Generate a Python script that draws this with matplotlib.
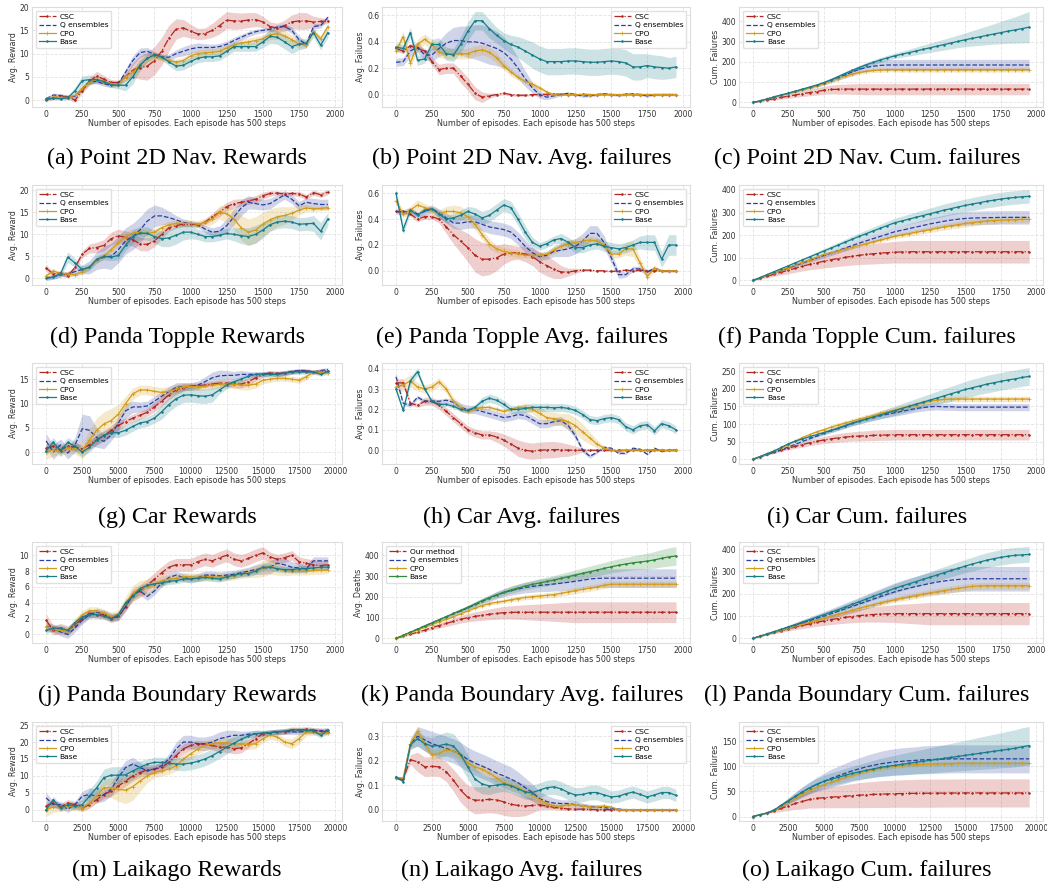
import numpy as np
import matplotlib
matplotlib.use('Agg')
import matplotlib.pyplot as plt

# episode axes
x_short = np.arange(0, 2000, 50)
x_long = np.arange(0, 20000, 500)

# ---------------- (a) Point 2D Nav. Rewards ----------------
a_csc = [0, 0.5, 0.8, 0.7, 0, 2, 4, 5.2, 4.5, 3.8,
         3.8, 5, 6.5, 7, 7.3, 8.5, 10.5, 13.3, 15.3, 15.5,
         14.8, 14.2, 14.3, 15, 16, 17.2, 17, 17, 17.2, 17.3,
         16.8, 15.8, 15.5, 16, 16.8, 17, 17, 16.8, 16.9, 17]
a_q = [0.3, 1.1, 1, 0.7, 0.8, 2.5, 4, 4, 3.5, 3.2,
       3.5, 6, 8.5, 10.2, 10.5, 9.8, 9.3, 9.2, 10, 10.5,
       11, 11.3, 11.3, 11.3, 11.5, 12, 12.8, 13.5, 14.2, 14.7,
       15, 15.2, 15.7, 15.8, 15, 13, 12, 15.8, 16, 17.8]
a_cpo = [0.3, 0.7, 0.6, 0.6, 1, 2.5, 3.8, 4.5, 4, 3.5,
         3.3, 5, 6, 7.5, 9, 9.5, 9, 8.5, 8.2, 8.5,
         9.5, 10, 10.2, 10.3, 10.5, 11.2, 11.8, 12.3, 12.5, 12.8,
         13.2, 14, 14.3, 13.8, 13, 12, 11.8, 14.8, 13.2, 15.8]
a_base = [0.3, 0.4, 0.3, 0.5, 2, 4.2, 4.4, 4.4, 4, 3.3,
          3.2, 3.2, 5, 7.5, 9, 9.7, 9.3, 8.2, 7.3, 7.5,
          8.3, 9, 9.3, 9.3, 9.5, 10.5, 11.5, 11.5, 11.5, 11.5,
          12.5, 13.7, 13.5, 12.5, 11.5, 12, 12.2, 14.5, 11.8, 14.5]
a_csc_b = [0.3, 0.4, 0.5, 0.5, 0.5, 0.6, 0.8, 1.0, 0.8, 0.6,
           0.5, 0.8, 1.5, 2.5, 3.0, 3.0, 3.0, 2.8, 2.2, 1.8,
           1.5, 1.2, 1.2, 1.5, 1.8, 1.8, 1.8, 1.7, 1.6, 1.5,
           1.2, 1.0, 1.0, 1.2, 1.5, 1.8, 1.8, 1.2, 0.8, 0.5]
a_q_b = [0.3, 0.4, 0.4, 0.3, 0.4, 0.5, 0.5, 0.5, 0.5, 0.5,
         0.5, 0.8, 1.0, 1.0, 0.8, 0.6, 0.5, 0.6, 0.8, 1.0,
         1.0, 1.0, 0.8, 0.7, 0.7, 0.7, 0.7, 0.6, 0.6, 0.5,
         0.5, 0.5, 0.5, 0.6, 0.7, 0.8, 0.6, 0.6, 0.5, 0.4]
a_cpo_b = [0.3, 0.3, 0.3, 0.3, 0.4, 0.5, 0.6, 0.6, 0.5, 0.5,
           0.5, 0.8, 1.0, 1.0, 1.0, 0.8, 0.6, 0.6, 0.6, 0.7,
           0.8, 0.8, 0.8, 0.8, 0.8, 0.8, 0.8, 0.8, 0.8, 0.8,
           0.8, 1.0, 1.2, 1.2, 1.0, 0.8, 0.6, 0.6, 0.6, 0.5]
a_base_b = [0.3, 0.3, 0.3, 0.4, 0.8, 1.0, 1.0, 0.8, 0.6, 0.6,
            0.8, 1.2, 1.5, 1.2, 0.8, 0.6, 0.6, 0.8, 1.0, 1.0,
            1.0, 1.0, 1.0, 1.0, 1.0, 1.0, 1.0, 1.0, 1.0, 1.0,
            1.2, 1.5, 1.5, 1.5, 1.5, 1.2, 1.0, 1.0, 1.0, 1.0]

# ---------------- (b) Point 2D Nav. Avg. failures ----------------
b_csc = [0.35, 0.33, 0.37, 0.35, 0.33, 0.25, 0.19, 0.2, 0.2, 0.14,
         0.08, 0.01, -0.02, -0.01, 0, 0.01, 0, -0.005, -0.005, 0,
         0, 0.002, 0.005, 0.002, 0, 0, 0.002, 0, 0, 0.002,
         0, 0, 0.002, 0, 0, 0, 0, 0, 0, 0]
b_q = [0.245, 0.25, 0.33, 0.36, 0.3, 0.3, 0.35, 0.39, 0.41, 0.41,
       0.4, 0.4, 0.39, 0.37, 0.35, 0.32, 0.27, 0.2, 0.12, 0.05,
       0, -0.02, -0.01, 0, 0.01, 0, -0.01, -0.01, 0, 0.005,
       0, -0.005, 0, 0.005, 0, -0.01, 0, 0, 0, 0]
b_cpo = [0.33, 0.44, 0.24, 0.38, 0.42, 0.38, 0.32, 0.31, 0.31, 0.31,
         0.31, 0.33, 0.34, 0.32, 0.28, 0.22, 0.17, 0.13, 0.1, 0.08,
         0.05, 0.02, 0, -0.005, 0, 0, 0, 0, 0, 0,
         0, 0, 0, 0, 0, 0, 0, 0, 0, 0]
b_base = [0.36, 0.35, 0.47, 0.26, 0.27, 0.38, 0.38, 0.31, 0.3, 0.38,
          0.48, 0.56, 0.56, 0.5, 0.45, 0.41, 0.38, 0.36, 0.33, 0.3,
          0.27, 0.25, 0.25, 0.25, 0.255, 0.255, 0.25, 0.245, 0.245, 0.25,
          0.255, 0.25, 0.24, 0.21, 0.21, 0.22, 0.21, 0.205, 0.2, 0.21]
b_csc_b = [0.02, 0.02, 0.02, 0.02, 0.02, 0.03, 0.04, 0.04, 0.04, 0.05,
           0.05, 0.05, 0.04, 0.02, 0.01, 0.01, 0.01, 0.01, 0.01, 0.005,
           0.005, 0.005, 0.005, 0.005, 0.005, 0.005, 0.005, 0.005, 0.005, 0.005,
           0.005, 0.005, 0.005, 0.005, 0.005, 0.005, 0.005, 0.005, 0.005, 0.005]
b_q_b = [0.03, 0.03, 0.04, 0.04, 0.04, 0.05, 0.06, 0.08, 0.1, 0.11,
         0.12, 0.13, 0.14, 0.14, 0.13, 0.12, 0.1, 0.08, 0.06, 0.04,
         0.03, 0.02, 0.015, 0.01, 0.01, 0.01, 0.01, 0.01, 0.01, 0.01,
         0.01, 0.01, 0.01, 0.01, 0.01, 0.01, 0.01, 0.01, 0.01, 0.01]
b_cpo_b = [0.03, 0.04, 0.04, 0.04, 0.04, 0.04, 0.04, 0.04, 0.04, 0.04,
           0.04, 0.04, 0.04, 0.04, 0.04, 0.03, 0.03, 0.02, 0.02, 0.02,
           0.02, 0.01, 0.005, 0.005, 0.005, 0.005, 0.005, 0.005, 0.005, 0.005,
           0.005, 0.005, 0.005, 0.005, 0.005, 0.005, 0.005, 0.005, 0.005, 0.005]
b_base_b = [0.03, 0.03, 0.04, 0.04, 0.03, 0.04, 0.05, 0.05, 0.05, 0.06,
            0.07, 0.07, 0.07, 0.07, 0.06, 0.06, 0.07, 0.08, 0.09, 0.1,
            0.1, 0.1, 0.1, 0.1, 0.1, 0.1, 0.1, 0.1, 0.1, 0.1,
            0.1, 0.1, 0.1, 0.1, 0.1, 0.09, 0.09, 0.09, 0.08, 0.08]

# ---------------- (c) Point 2D Nav. Cum. failures ----------------
c_csc = [0, 6, 12, 18, 25, 31, 37, 43, 49, 54,
         60, 64, 65, 66, 66, 66, 66, 66, 66, 66,
         66, 66, 66, 66, 66, 66, 66, 66, 66, 66,
         66, 66, 66, 66, 66, 66, 66, 66, 66, 66]
c_q = [0, 8, 17, 27, 36, 45, 54, 63, 73, 83,
       95, 108, 122, 136, 150, 163, 173, 179, 183, 185,
       185, 185, 185, 185, 185, 185, 185, 185, 185, 185,
       185, 185, 185, 185, 185, 185, 185, 185, 185, 185]
c_cpo = [0, 8, 17, 27, 36, 45, 54, 63, 73, 83,
         93, 105, 118, 130, 140, 148, 154, 158, 160, 162,
         162, 162, 162, 162, 162, 162, 162, 162, 162, 162,
         162, 162, 162, 162, 162, 162, 162, 162, 162, 162]
c_base = [0, 8, 17, 28, 37, 46, 56, 66, 76, 86,
          98, 112, 127, 143, 158, 172, 186, 198, 210, 220,
          230, 238, 246, 254, 262, 270, 278, 286, 294, 302,
          310, 317, 324, 331, 338, 345, 352, 358, 365, 372]
c_csc_b = [0, 2, 4, 6, 8, 10, 12, 14, 16, 18,
           20, 22, 24, 25, 26, 27, 28, 28, 28, 28,
           28, 28, 28, 28, 28, 28, 28, 28, 28, 28,
           28, 28, 28, 28, 28, 28, 28, 28, 28, 28]
c_q_b = [0, 1, 2, 3, 4, 5, 6, 7, 8, 9,
         10, 11, 13, 15, 17, 19, 21, 23, 25, 26,
         27, 28, 28, 28, 28, 28, 28, 28, 28, 28,
         28, 28, 28, 28, 28, 28, 28, 28, 28, 28]
c_cpo_b = [0, 1, 1, 2, 2, 3, 3, 4, 4, 5,
           5, 6, 7, 8, 9, 10, 10, 10, 11, 11,
           11, 12, 12, 12, 12, 12, 12, 12, 12, 12,
           12, 12, 12, 12, 12, 12, 12, 12, 12, 12]
c_base_b = [0, 1, 1, 2, 2, 3, 3, 4, 4, 5,
            5, 6, 7, 8, 9, 10, 11, 12, 12, 13,
            13, 15, 17, 19, 21, 23, 25, 27, 29, 31,
            34, 38, 42, 46, 50, 55, 60, 65, 71, 77]

# ---------------- (d) Panda Topple Rewards ----------------
d_csc = [2.3, 1, 1.2, 0.5, 2.5, 5.5, 6.8, 7, 7.5, 9,
         9.7, 9.3, 8.8, 7.8, 7.7, 8.5, 10, 11.5, 12, 12.3,
         12.3, 12.2, 12.8, 14, 15, 16.3, 17, 17.3, 17.6, 18,
         18.8, 19.3, 19.4, 19.2, 19.3, 19.2, 18.5, 19.5, 19, 19.6]
d_q = [0, 0.3, 0.8, 1, 1.5, 2, 2.5, 4, 4.8, 5,
       6.5, 8.5, 9.5, 11, 13, 14.2, 14.2, 13.8, 13.3, 12.7,
       12.5, 12.2, 11.2, 10.5, 10.7, 12, 14, 16, 17.3, 17,
       16.7, 17, 18, 19, 18, 16.5, 17.3, 17, 16.8, 16.8]
d_cpo = [0.5, 1.7, 1, 1, 0.8, 1.5, 2.5, 4, 5, 6.5,
         8, 9.5, 10.3, 10.5, 10.2, 10.5, 11.5, 12.2, 12.5, 12.5,
         12.5, 12.3, 12.7, 13.5, 15, 14.7, 13.5, 11.5, 10.5, 11,
         12.3, 13.3, 14, 14.3, 14.8, 15.5, 16, 15.8, 15.9, 16.1]
d_base = [0, 0.3, 1, 4.8, 3.5, 2, 2.5, 4.3, 5, 4.8,
          5.2, 7.5, 9.5, 10.3, 10.2, 9.5, 9, 9.2, 9.8, 10.5,
          10.5, 10, 9.5, 9.5, 9.8, 10.2, 10, 9.7, 9.5, 10,
          11, 12.2, 12.8, 13, 12.8, 12.3, 12.4, 12.5, 10.7, 13.5]
d_csc_b = [0.8, 0.5, 0.5, 0.5, 0.5, 0.8, 1.0, 1.2, 1.3, 1.5,
           1.5, 1.5, 1.5, 1.5, 1.5, 1.3, 1.0, 0.8, 0.6, 0.5,
           0.5, 0.5, 0.6, 0.8, 1.0, 1.0, 1.0, 0.8, 0.8, 0.8,
           0.8, 0.6, 0.5, 0.5, 0.5, 0.6, 0.6, 0.6, 0.6, 0.6]
d_q_b = [0.5, 0.5, 0.5, 0.6, 0.8, 1.0, 1.5, 2.0, 2.5, 3.0,
         3.0, 3.0, 3.0, 3.0, 2.8, 2.5, 2.0, 1.5, 1.0, 0.8,
         0.6, 0.6, 0.8, 1.0, 1.2, 1.5, 1.8, 1.8, 1.5, 1.3,
         1.2, 1.2, 1.0, 1.0, 1.0, 1.0, 1.0, 1.2, 1.2, 1.2]
d_cpo_b = [0.5, 0.5, 0.5, 0.5, 0.5, 0.5, 0.5, 0.6, 0.6, 0.8,
           1.0, 1.0, 1.0, 0.8, 0.8, 0.8, 0.8, 0.8, 0.8, 0.8,
           0.8, 0.8, 1.0, 1.2, 1.5, 2.0, 2.5, 2.8, 3.0, 3.0,
           2.8, 2.5, 2.2, 2.0, 1.5, 1.2, 0.8, 0.6, 0.5, 0.5]
d_base_b = [0.5, 0.5, 0.8, 1.2, 1.0, 0.8, 0.8, 0.8, 0.8, 0.8,
            1.0, 1.2, 1.5, 1.5, 1.5, 1.5, 1.8, 2.0, 2.0, 1.8,
            1.5, 1.2, 1.2, 1.2, 1.2, 1.2, 1.5, 1.8, 2.0, 2.0,
            1.8, 1.5, 1.5, 1.5, 1.5, 1.5, 1.5, 1.8, 2.0, 1.5]

# ---------------- (e) Panda Topple Avg. failures ----------------
e_csc = [0.46, 0.46, 0.44, 0.4, 0.42, 0.42, 0.4, 0.34, 0.28, 0.23,
         0.18, 0.12, 0.09, 0.09, 0.1, 0.13, 0.14, 0.14, 0.13, 0.11,
         0.07, 0.04, 0.01, -0.01, -0.01, 0, 0.005, 0.005, 0, 0,
         -0.005, 0, 0.005, 0, 0.005, 0, 0, 0, 0, 0]
e_q = [0.46, 0.45, 0.47, 0.44, 0.46, 0.48, 0.45, 0.41, 0.37, 0.37,
       0.38, 0.38, 0.36, 0.34, 0.33, 0.32, 0.3, 0.25, 0.19, 0.14,
       0.11, 0.12, 0.15, 0.16, 0.17, 0.19, 0.23, 0.29, 0.29, 0.22,
       0.1, -0.03, -0.03, 0.015, 0.015, -0.01, 0.02, 0, 0, 0]
e_cpo = [0.54, 0.44, 0.47, 0.51, 0.49, 0.47, 0.44, 0.46, 0.46, 0.45,
         0.42, 0.36, 0.28, 0.21, 0.17, 0.15, 0.14, 0.13, 0.12, 0.12,
         0.12, 0.13, 0.16, 0.19, 0.21, 0.22, 0.23, 0.24, 0.23, 0.2,
         0.13, 0.13, 0.17, 0.17, 0.06, -0.045, 0.02, 0, 0, 0]
e_base = [0.6, 0.32, 0.47, 0.43, 0.47, 0.48, 0.44, 0.4, 0.41, 0.43,
          0.46, 0.44, 0.41, 0.43, 0.47, 0.51, 0.49, 0.4, 0.3, 0.22,
          0.19, 0.21, 0.24, 0.25, 0.22, 0.18, 0.18, 0.2, 0.21, 0.19,
          0.18, 0.17, 0.18, 0.2, 0.22, 0.22, 0.22, 0.09, 0.2, 0.2]
e_csc_b = [0.01, 0.01, 0.02, 0.02, 0.02, 0.02, 0.03, 0.05, 0.07, 0.09,
           0.11, 0.13, 0.13, 0.12, 0.1, 0.08, 0.06, 0.05, 0.06, 0.07,
           0.08, 0.08, 0.07, 0.05, 0.03, 0.02, 0.01, 0.005, 0.005, 0.005,
           0.005, 0.005, 0.005, 0.005, 0.005, 0.005, 0.005, 0.005, 0.005, 0.005]
e_q_b = [0.02, 0.02, 0.02, 0.02, 0.03, 0.03, 0.03, 0.04, 0.04, 0.05,
         0.05, 0.05, 0.05, 0.05, 0.05, 0.05, 0.05, 0.05, 0.05, 0.04,
         0.03, 0.03, 0.04, 0.05, 0.06, 0.06, 0.06, 0.06, 0.06, 0.05,
         0.04, 0.03, 0.02, 0.02, 0.02, 0.02, 0.01, 0.01, 0.01, 0.01]
e_cpo_b = [0.03, 0.03, 0.03, 0.04, 0.03, 0.03, 0.03, 0.04, 0.05, 0.05,
           0.04, 0.04, 0.04, 0.04, 0.03, 0.03, 0.03, 0.03, 0.02, 0.02,
           0.02, 0.02, 0.03, 0.03, 0.03, 0.03, 0.03, 0.03, 0.03, 0.03,
           0.03, 0.03, 0.05, 0.06, 0.04, 0.03, 0.02, 0.01, 0.01, 0.01]
e_base_b = [0.03, 0.04, 0.02, 0.02, 0.02, 0.02, 0.03, 0.03, 0.03, 0.04,
            0.04, 0.05, 0.05, 0.05, 0.05, 0.05, 0.05, 0.05, 0.05, 0.04,
            0.03, 0.03, 0.03, 0.04, 0.04, 0.04, 0.04, 0.04, 0.04, 0.04,
            0.04, 0.04, 0.04, 0.04, 0.05, 0.06, 0.06, 0.06, 0.08, 0.08]

# ---------------- (f) Panda Topple Cum. failures ----------------
f_csc = [0, 9, 18, 27, 36, 45, 54, 63, 71, 78,
         85, 91, 97, 102, 107, 111, 115, 118, 121, 123,
         125, 126, 127, 127, 127, 127, 127, 127, 127, 127,
         127, 127, 127, 127, 127, 127, 127, 127, 127, 127]
f_q = [0, 11, 22, 33, 44, 55, 66, 77, 88, 99,
       110, 121, 132, 143, 154, 165, 175, 185, 195, 205,
       215, 222, 229, 236, 243, 250, 256, 262, 267, 271,
       274, 276, 277, 278, 278, 279, 279, 279, 279, 279]
f_cpo = [0, 11, 23, 34, 46, 57, 69, 80, 92, 103,
         115, 123, 131, 139, 147, 155, 163, 171, 179, 187,
         195, 201, 207, 213, 219, 225, 231, 237, 242, 247,
         252, 256, 260, 263, 265, 267, 268, 269, 270, 270]
f_base = [0, 13, 26, 39, 52, 65, 78, 91, 104, 117,
          130, 143, 156, 169, 182, 195, 207, 219, 231, 243,
          255, 263, 271, 279, 287, 295, 303, 311, 318, 325,
          332, 338, 344, 350, 355, 360, 364, 367, 370, 372]
f_csc_b = [0, 3, 6, 9, 12, 15, 18, 21, 24, 27,
           30, 33, 35, 37, 39, 41, 43, 45, 46, 47,
           48, 49, 50, 50, 50, 50, 50, 50, 50, 50,
           50, 50, 50, 50, 50, 50, 50, 50, 50, 50]
f_q_b = [0, 1, 2, 3, 4, 5, 6, 7, 8, 9,
         10, 11, 12, 13, 14, 15, 16, 17, 18, 19,
         20, 21, 22, 23, 24, 25, 26, 27, 28, 29,
         30, 30, 30, 30, 30, 30, 30, 30, 30, 30]
f_cpo_b = [0, 1, 1, 2, 2, 3, 3, 4, 4, 5,
           5, 6, 6, 7, 7, 8, 8, 9, 9, 10,
           10, 11, 11, 12, 12, 13, 13, 14, 14, 15,
           15, 15, 15, 15, 15, 15, 15, 15, 15, 15]
f_base_b = [0, 1, 2, 3, 4, 5, 6, 7, 8, 9,
            10, 11, 12, 13, 14, 15, 16, 17, 18, 19,
            20, 21, 22, 23, 24, 25, 26, 27, 28, 28,
            28, 29, 29, 29, 30, 30, 30, 30, 30, 30]

# ---------------- (g) Car Rewards ----------------
g_csc = [0.8, 1.2, 0.5, 1.2, 1, 0.7, 1.5, 2.5, 3.3, 4.5,
         5.5, 6.3, 7, 7.6, 8.2, 9.3, 10.5, 11.8, 12.8, 13.3,
         13.6, 13.7, 13.8, 14, 14.2, 14.2, 14, 14, 14.5, 15.3,
         16, 16.3, 16.2, 16.3, 16.5, 16.7, 16.6, 16.5, 16.6, 16.7]
g_q = [2.3, 0, 1.5, -0.2, 1.5, 4.8, 4.5, 3, 2.2, 3.5,
       6, 8.5, 9.3, 9.3, 9.5, 10.5, 11.5, 12.5, 13.3, 13.5,
       13.5, 13.8, 14.5, 15.3, 15.7, 15.8, 15.8, 16, 16, 16,
       16, 16.2, 16, 16.3, 16.6, 16.8, 16.8, 16.5, 16.8, 17]
g_cpo = [0, 0.5, 0.2, 0.8, 0.8, 0.2, 2.5, 4.5, 5.8, 6.5,
         7.8, 10, 12, 12.8, 12.8, 12.5, 12.3, 12.5, 13, 13.5,
         13.5, 13.5, 13.6, 13.8, 14, 14, 14, 13.8, 13.8, 14,
         14.8, 15, 15.2, 15.2, 15, 14.8, 15.5, 16.5, 16.5, 16.3]
g_base = [0.3, 2, 0.2, 2, 1.2, 0, 1, 2.5, 3.5, 4,
          4, 4.5, 5.3, 6, 6.3, 7, 8.3, 9.8, 11, 11.7,
          11.8, 11.6, 11.5, 11.8, 12.8, 13.8, 14.5, 15, 15.6, 16,
          16.1, 16, 16, 16.2, 16.5, 16.5, 16.5, 16.5, 16, 16.6]
g_csc_b = [0.8, 0.8, 0.8, 0.8, 0.8, 0.8, 1, 1, 1, 1,
           1, 0.8, 0.8, 0.8, 0.8, 1, 1, 1, 1, 0.8,
           0.5, 0.5, 0.5, 0.5, 0.5, 0.6, 0.8, 0.8, 0.8, 0.6,
           0.5, 0.5, 0.5, 0.5, 0.5, 0.4, 0.4, 0.4, 0.4, 0.4]
g_q_b = [1.5, 1.5, 1.2, 1.2, 1.5, 3.0, 3.0, 2.0, 1.5, 1.2,
         1.5, 1.5, 1.2, 1.0, 1.0, 1.0, 1.0, 1.0, 1.0, 0.8,
         0.8, 0.8, 1.0, 1.2, 1.2, 1.0, 0.8, 0.8, 0.6, 0.5,
         0.5, 0.5, 0.5, 0.5, 0.4, 0.4, 0.4, 0.4, 0.4, 0.4]
g_cpo_b = [1.5, 1.2, 1.0, 1.0, 1.2, 1.5, 2.0, 2.5, 2.5, 2.5,
           2.0, 1.5, 1.2, 1.0, 1.0, 1.0, 1.0, 1.0, 1.0, 0.8,
           0.8, 0.8, 0.8, 0.8, 0.8, 0.8, 0.8, 1.0, 1.0, 0.8,
           0.8, 0.6, 0.6, 0.6, 0.6, 0.6, 0.6, 0.5, 0.5, 0.5]
g_base_b = [1, 1, 1, 1, 1, 1, 1, 1, 1, 1,
            1, 1, 1, 1, 1, 1, 1.5, 1.5, 1.5, 1.5,
            1.5, 1.5, 1.5, 1.5, 0.8, 0.8, 0.6, 0.6, 0.6, 0.5,
            0.5, 0.5, 0.5, 0.5, 0.5, 0.5, 0.4, 0.4, 0.4, 0.4]

# ---------------- (h) Car Avg. failures ----------------
h_csc = [0.33, 0.33, 0.23, 0.22, 0.24, 0.24, 0.22, 0.19, 0.16, 0.13,
         0.1, 0.085, 0.075, 0.075, 0.065, 0.05, 0.03, 0.01, 0, -0.005,
         0, 0.002, 0.003, 0.003, 0, 0, 0, 0, 0, 0,
         0, 0, 0, 0, 0, 0, 0, 0, 0, 0]
h_q = [0.36, 0.23, 0.22, 0.26, 0.24, 0.24, 0.24, 0.245, 0.235, 0.21,
       0.2, 0.2, 0.19, 0.18, 0.17, 0.16, 0.165, 0.175, 0.17, 0.15,
       0.13, 0.13, 0.14, 0.145, 0.12, 0.07, 0, -0.03, -0.01, 0.015,
       0.01, -0.015, -0.015, 0.01, 0.005, -0.02, 0.01, -0.005, 0, 0]
h_cpo = [0.31, 0.32, 0.34, 0.31, 0.3, 0.31, 0.335, 0.3, 0.24, 0.21,
         0.19, 0.2, 0.21, 0.21, 0.2, 0.19, 0.2, 0.21, 0.21, 0.2,
         0.18, 0.16, 0.155, 0.15, 0.14, 0.12, 0.09, 0.06, 0.03, 0.01,
         0, -0.005, 0, 0, 0, 0, 0, 0, 0, 0]
h_base = [0.3, 0.195, 0.34, 0.385, 0.3, 0.24, 0.225, 0.225, 0.215, 0.2,
          0.195, 0.21, 0.24, 0.255, 0.245, 0.225, 0.2, 0.2, 0.205, 0.21,
          0.21, 0.21, 0.208, 0.21, 0.205, 0.195, 0.175, 0.15, 0.145, 0.155,
          0.16, 0.15, 0.115, 0.1, 0.12, 0.125, 0.095, 0.13, 0.12, 0.1]
h_csc_b = [0.02, 0.02, 0.01, 0.01, 0.02, 0.02, 0.02, 0.02, 0.02, 0.02,
           0.02, 0.02, 0.02, 0.02, 0.025, 0.03, 0.035, 0.04, 0.04, 0.04,
           0.04, 0.04, 0.04, 0.035, 0.03, 0.02, 0.01, 0.005, 0.005, 0.005,
           0.005, 0.005, 0.005, 0.005, 0.005, 0.005, 0.005, 0.005, 0.005, 0.005]
h_q_b = [0.02, 0.01, 0.01, 0.01, 0.01, 0.01, 0.01, 0.01, 0.015, 0.02,
         0.02, 0.02, 0.02, 0.02, 0.02, 0.02, 0.02, 0.02, 0.02, 0.02,
         0.02, 0.02, 0.02, 0.02, 0.02, 0.015, 0.01, 0.01, 0.005, 0.005,
         0.005, 0.005, 0.005, 0.005, 0.005, 0.005, 0.005, 0.005, 0.005, 0.005]
h_cpo_b = [0.02, 0.03, 0.03, 0.02, 0.02, 0.02, 0.02, 0.02, 0.02, 0.02,
           0.01, 0.01, 0.01, 0.01, 0.01, 0.01, 0.01, 0.01, 0.02, 0.02,
           0.03, 0.03, 0.03, 0.03, 0.04, 0.04, 0.04, 0.03, 0.02, 0.01,
           0.005, 0.005, 0.005, 0.005, 0.005, 0.005, 0.005, 0.005, 0.005, 0.005]
h_base_b = [0.01, 0.01, 0.02, 0.02, 0.01, 0.01, 0.01, 0.01, 0.01, 0.01,
            0.01, 0.015, 0.02, 0.02, 0.02, 0.02, 0.02, 0.02, 0.02, 0.02,
            0.02, 0.02, 0.02, 0.02, 0.02, 0.02, 0.02, 0.02, 0.02, 0.02,
            0.02, 0.02, 0.02, 0.02, 0.02, 0.02, 0.02, 0.02, 0.02, 0.02]

# ---------------- (i) Car Cum. failures ----------------
i_csc = [0, 7, 14, 20, 26, 32, 37, 42, 47, 51,
         55, 58, 61, 63, 65, 66, 67, 68, 69, 69,
         70, 70, 70, 70, 70, 70, 70, 70, 70, 70,
         70, 70, 70, 70, 70, 70, 70, 70, 70, 70]
i_q = [0, 7, 14, 21, 28, 35, 43, 51, 58, 66,
       74, 81, 88, 95, 102, 108, 114, 119, 124, 128,
       132, 136, 140, 144, 147, 149, 150, 149, 149, 148,
       148, 148, 148, 148, 148, 148, 148, 148, 148, 148]
i_cpo = [0, 8, 16, 24, 32, 42, 52, 62, 70, 78,
         84, 91, 97, 103, 108, 114, 119, 124, 130, 135,
         140, 145, 150, 155, 160, 165, 168, 170, 171, 171,
         171, 171, 171, 171, 171, 171, 171, 171, 171, 171]
i_base = [0, 8, 16, 24, 34, 44, 52, 58, 64, 70,
          76, 82, 88, 95, 102, 108, 114, 120, 126, 132,
          138, 144, 150, 156, 162, 168, 174, 180, 186, 192,
          198, 203, 208, 213, 217, 221, 225, 228, 232, 235]
i_csc_b = [0, 1, 2, 3, 4, 5, 6, 7, 8, 9,
           10, 11, 12, 13, 13, 14, 14, 15, 15, 15,
           15, 15, 15, 15, 15, 15, 15, 15, 15, 15,
           15, 15, 15, 15, 15, 15, 15, 15, 15, 15]
i_q_b = [0, 0.5, 1, 1.5, 2, 2.5, 3, 3.5, 4, 4.5,
         5, 5.5, 6, 6.5, 7, 7.5, 8, 8.5, 9, 9.5,
         10, 10, 10, 10, 10, 10, 10, 10, 10, 10,
         10, 10, 10, 10, 10, 10, 10, 10, 10, 10]
i_cpo_b = [0, 0.5, 1, 1.5, 2, 2.5, 3, 3.5, 4, 4.5,
           5, 5.5, 6, 6.5, 7, 7.5, 8, 8, 8, 8,
           8, 8, 8, 8, 8, 8, 8, 8, 8, 8,
           8, 8, 8, 8, 8, 8, 8, 8, 8, 8]
i_base_b = [0, 1, 1, 2, 2, 3, 3, 4, 4, 5,
            5, 6, 6, 7, 7, 8, 9, 10, 11, 12,
            13, 14, 15, 16, 17, 18, 19, 20, 21, 22,
            23, 24, 24, 25, 25, 25, 25, 25, 25, 25]

# ---------------- (j) Panda Boundary Rewards ----------------
j_csc = [1.8, 0.5, 0.8, 0.5, 1.2, 2, 2.7, 2.5, 2.5, 2,
         2.3, 3.5, 5, 5.5, 6.2, 7, 7.8, 8.5, 8.8, 8.8,
         8.8, 9.2, 9.5, 9.3, 9.7, 10, 9.5, 9.3, 9.6, 10,
         10.3, 9.8, 9.5, 9.7, 10, 9.2, 9, 8.8, 8.7, 8.8]
j_q = [1, 0.8, 0.3, 0, 0.8, 1.8, 2.5, 2.8, 2.6, 2.2,
       2.2, 3.5, 5, 5.5, 4.8, 5.5, 6.5, 7.2, 7.5, 7.2,
       7, 7.2, 7.5, 7.5, 7.4, 7.5, 7.6, 7.8, 8, 8.2,
       8.3, 8.5, 9, 8.8, 8.5, 8.4, 8.3, 9.3, 9.3, 9.3]
j_cpo = [1, 0.7, 0.5, 0.4, 1.5, 2.5, 3, 3, 2.7, 2.3,
         2.5, 4, 5.2, 5.8, 6, 6.3, 6.8, 7, 7.1, 7.3,
         7.3, 7.2, 7.3, 7.3, 7.2, 7.3, 7.4, 7.6, 7.8, 8,
         8.3, 8.6, 8.3, 8, 8, 8, 8, 8.1, 8.1, 8.2]
j_base = [0.5, 0.8, 0.8, 0.5, 1.5, 2.2, 2.5, 2.5, 2.3, 2,
          2.5, 4, 4.8, 5.8, 6.2, 6.4, 6.5, 6.7, 6.8, 7,
          7, 7.1, 7.2, 7.1, 7, 7.3, 7.5, 7.7, 7.7, 8,
          8.5, 8.5, 8.3, 8.2, 8.2, 8.3, 8.3, 8.4, 8.5, 8.5]
j_csc_b = [0.8, 0.6, 0.6, 0.6, 0.5, 0.5, 0.5, 0.5, 0.5, 0.5,
           0.5, 0.6, 0.8, 0.8, 0.8, 0.8, 0.8, 0.8, 0.8, 0.8,
           0.8, 0.8, 0.8, 0.8, 0.8, 0.8, 0.8, 0.8, 0.8, 0.8,
           0.8, 0.6, 0.6, 0.6, 0.6, 0.6, 0.6, 0.6, 0.6, 0.6]
j_q_b = [0.5, 0.5, 0.5, 0.5, 0.5, 0.5, 0.5, 0.5, 0.5, 0.5,
         0.5, 0.5, 0.5, 0.5, 0.5, 0.5, 0.5, 0.5, 0.5, 0.5,
         0.5, 0.5, 0.5, 0.5, 0.5, 0.5, 0.5, 0.5, 0.5, 0.6,
         0.7, 0.8, 0.8, 0.8, 0.7, 0.6, 0.5, 0.5, 0.5, 0.5]
j_cpo_b = [0.5, 0.5, 0.5, 0.5, 0.5, 0.5, 0.5, 0.5, 0.5, 0.5,
           0.6, 0.8, 1.0, 1.0, 1.0, 0.8, 0.6, 0.5, 0.5, 0.5,
           0.5, 0.5, 0.5, 0.5, 0.5, 0.5, 0.5, 0.5, 0.6, 0.8,
           1.0, 1.0, 0.8, 0.6, 0.5, 0.5, 0.5, 0.5, 0.5, 0.5]
j_base_b = [0.4, 0.4, 0.4, 0.4, 0.4, 0.4, 0.4, 0.4, 0.4, 0.4,
            0.4, 0.4, 0.4, 0.4, 0.4, 0.4, 0.4, 0.4, 0.4, 0.4,
            0.4, 0.4, 0.4, 0.4, 0.4, 0.4, 0.4, 0.4, 0.4, 0.4,
            0.4, 0.4, 0.4, 0.4, 0.4, 0.4, 0.4, 0.4, 0.4, 0.4]

# ---------------- (k) Panda Boundary Avg. failures (deaths) ----------------
k_csc = [0, 10, 20, 30, 40, 52, 62, 72, 82, 92,
         100, 106, 111, 116, 120, 124, 125, 126, 126, 126,
         126, 126, 126, 126, 126, 126, 126, 126, 126, 126,
         126, 126, 126, 126, 126, 126, 126, 126, 126, 126]
k_q = [0, 15, 30, 45, 60, 75, 90, 104, 118, 132,
       147, 162, 178, 193, 208, 220, 230, 238, 245, 250,
       255, 258, 262, 266, 270, 275, 280, 286, 289, 290,
       290, 290, 290, 290, 290, 290, 290, 290, 290, 290]
k_cpo = [0, 14, 27, 40, 53, 66, 79, 92, 105, 118,
         132, 146, 158, 168, 174, 179, 186, 192, 197, 201,
         204, 207, 211, 217, 224, 230, 236, 242, 248, 256,
         261, 261, 261, 261, 261, 261, 261, 261, 261, 261]
k_base = [0, 15, 30, 45, 60, 75, 90, 105, 120, 135,
          150, 166, 182, 196, 210, 222, 233, 243, 252, 260,
          267, 274, 281, 289, 297, 305, 313, 321, 329, 337,
          345, 352, 358, 364, 368, 372, 378, 386, 392, 397]
k_csc_b = [0, 2, 4, 6, 8, 10, 12, 14, 16, 18,
           20, 22, 24, 26, 28, 30, 32, 34, 36, 38,
           40, 42, 44, 46, 48, 50, 50, 50, 50, 50,
           50, 50, 50, 50, 50, 50, 50, 50, 50, 50]
k_q_b = [0, 1, 2, 3, 4, 5, 6, 7, 8, 9,
         10, 12, 14, 16, 18, 20, 22, 24, 26, 28,
         30, 32, 34, 36, 38, 40, 42, 44, 45, 45,
         45, 45, 45, 45, 45, 45, 45, 45, 45, 45]
k_cpo_b = [0, 1, 1, 2, 2, 3, 3, 4, 4, 5,
           5, 6, 7, 8, 9, 10, 10, 11, 11, 12,
           12, 13, 13, 14, 14, 15, 15, 15, 15, 15,
           15, 15, 15, 15, 15, 15, 15, 15, 15, 15]
k_base_b = [0, 1, 2, 3, 4, 5, 6, 7, 8, 9,
            10, 11, 12, 13, 14, 15, 16, 17, 18, 19,
            20, 21, 22, 23, 24, 25, 26, 27, 28, 29,
            30, 31, 32, 34, 36, 38, 40, 42, 44, 45]

# ---------------- (l) Panda Boundary Cum. failures ----------------
l_csc = [0, 9, 18, 27, 35, 43, 51, 58, 65, 72,
         78, 84, 89, 94, 98, 102, 105, 107, 109, 110,
         111, 111, 111, 111, 111, 111, 111, 111, 111, 111,
         111, 111, 111, 111, 111, 111, 111, 111, 111, 111]
l_q = [0, 10, 20, 30, 40, 50, 60, 70, 80, 90,
       100, 110, 121, 132, 143, 154, 165, 176, 187, 198,
       208, 217, 225, 232, 239, 246, 252, 257, 261, 264,
       266, 267, 267, 267, 267, 267, 267, 267, 267, 267]
l_cpo = [0, 9, 18, 27, 36, 45, 54, 63, 72, 81,
         90, 99, 108, 117, 126, 135, 143, 151, 159, 166,
         173, 180, 186, 192, 198, 204, 209, 214, 219, 224,
         229, 233, 235, 236, 236, 236, 236, 236, 236, 236]
l_base = [0, 10, 20, 30, 40, 51, 62, 73, 84, 95,
          106, 117, 128, 140, 152, 164, 176, 188, 200, 212,
          224, 234, 244, 254, 264, 274, 284, 294, 304, 314,
          324, 333, 342, 350, 357, 363, 368, 372, 374, 376]
l_csc_b = [0, 2, 4, 6, 8, 10, 12, 14, 16, 18,
           20, 22, 24, 26, 28, 30, 32, 34, 36, 38,
           40, 42, 44, 46, 48, 50, 50, 50, 50, 50,
           50, 50, 50, 50, 50, 50, 50, 50, 50, 50]
l_q_b = [0, 2, 4, 6, 8, 10, 12, 14, 16, 18,
         20, 22, 24, 26, 28, 30, 32, 34, 36, 38,
         40, 42, 44, 46, 48, 50, 52, 54, 55, 55,
         55, 55, 55, 55, 55, 55, 55, 55, 55, 55]
l_cpo_b = [0, 1, 1, 2, 2, 3, 3, 4, 4, 5,
           5, 6, 7, 8, 9, 10, 10, 11, 11, 12,
           12, 13, 13, 14, 14, 15, 15, 15, 15, 15,
           15, 15, 15, 15, 15, 15, 15, 15, 15, 15]
l_base_b = [0, 1, 2, 3, 4, 5, 6, 7, 8, 9,
            10, 11, 12, 13, 14, 15, 16, 17, 18, 19,
            20, 21, 22, 23, 24, 25, 26, 27, 28, 29,
            30, 31, 32, 33, 34, 35, 35, 35, 35, 35]

# ---------------- (m) Laikago Rewards ----------------
m_csc = [1.2, 2, 0.8, 2, 1.5, 0.5, 1.5, 3, 4.5, 5.5,
         7, 8.5, 10, 11, 11.8, 12, 12.5, 14, 16, 18,
         19, 19.5, 19.3, 19, 18.5, 18.5, 18, 18.3, 19.5, 21,
         22.5, 22.8, 23, 23, 23.5, 23.5, 23.8, 23.5, 23.3, 23]
m_q = [3.5, 1.5, 1.5, 0.2, 1.5, 4, 4.5, 4, 4.5, 6,
       9.5, 12.5, 13.5, 12.5, 11.5, 12, 13, 15, 18, 20,
       20, 19.5, 19.5, 20, 21, 21.5, 22, 22, 22.3, 22.5,
       22.5, 22.8, 23, 23.2, 23, 23, 23.2, 23.3, 23.3, 23.5]
m_cpo = [0, 0.8, 0.5, 1, 0.8, 0.5, 2, 4, 6.5, 6.5,
         6, 5.8, 6.8, 8.5, 10, 11, 11.5, 12, 13, 15,
         16.5, 18, 19, 19.5, 19.8, 19.8, 19.5, 19.5, 19.3, 19.5,
         21, 22, 21.5, 20, 19.5, 21, 23, 23, 22.5, 22.8]
m_base = [0, 3, 0.5, 1.5, 1, 1.5, 4, 6.5, 9.5, 10.2,
          10.2, 10.3, 11.5, 12.5, 13.5, 14, 14, 13.7, 13.5, 13.5,
          13.8, 14.3, 15, 16, 17.2, 18.5, 19.7, 20.8, 21.8, 22.5,
          22.7, 22.8, 23, 23.2, 23.7, 23.6, 23.5, 23.3, 22, 23.5]
m_csc_b = [1, 1, 1, 1, 1, 1, 1, 1, 1.2, 1.5,
           1.5, 1.5, 1.5, 1.5, 1.5, 1.5, 1.5, 1.5, 1.5, 1.5,
           1.2, 1, 1, 1.2, 1.5, 1.5, 1.5, 1.5, 1.2, 1,
           0.8, 0.8, 0.8, 0.8, 0.8, 0.8, 0.8, 0.8, 0.8, 0.8]
m_q_b = [1.5, 1, 1, 1, 1, 1.5, 2, 2, 2, 2,
         2, 2, 2, 1.5, 1.2, 1, 1.2, 1.5, 2, 2,
         2, 2, 2, 2, 2, 2, 1.5, 1.2, 1, 1,
         0.8, 0.8, 0.8, 0.8, 0.8, 0.8, 0.8, 0.8, 0.8, 0.8]
m_cpo_b = [2, 1.5, 1, 1, 1, 1, 1.5, 2, 2.5, 3,
           3.5, 4, 4, 3, 2, 1.5, 1.5, 1.5, 1.5, 1.5,
           1.5, 1.5, 1.5, 1.5, 1.5, 1.5, 1.5, 1.5, 1.5, 1.5,
           1.2, 1.2, 1.2, 1.2, 1.5, 1.5, 1.2, 1, 0.8, 0.8]
m_base_b = [1, 1, 1, 1, 1, 1.5, 2, 2, 2.5, 2.5,
            2.5, 2.5, 2.5, 2, 1.5, 1.5, 1.5, 1.5, 1.8, 2,
            2, 2, 2, 2, 2, 2, 2, 1.5, 1.2, 1,
            0.8, 0.8, 0.8, 0.8, 0.8, 0.8, 0.8, 0.8, 0.8, 0.8]

# ---------------- (n) Laikago Avg. failures ----------------
n_csc = [0.13, 0.125, 0.205, 0.195, 0.175, 0.177, 0.175, 0.155, 0.12, 0.08,
         0.05, 0.038, 0.04, 0.042, 0.04, 0.032, 0.022, 0.017, 0.015, 0.017,
         0.02, 0.015, 0.01, 0.005, 0.003, 0.002, 0.002, 0.001, 0, 0,
         0, 0, 0, 0, 0, 0, 0, 0, 0, 0]
n_q = [0.13, 0.12, 0.27, 0.3, 0.285, 0.27, 0.26, 0.25, 0.24, 0.225,
       0.205, 0.19, 0.178, 0.165, 0.15, 0.138, 0.125, 0.11, 0.09, 0.07,
       0.045, 0.033, 0.027, 0.025, 0.025, 0.02, 0.015, 0.012, 0.01, 0.008,
       0.005, 0.002, 0, 0, 0, 0, 0, 0, 0, 0]
n_cpo = [0.13, 0.13, 0.27, 0.32, 0.27, 0.225, 0.23, 0.245, 0.24, 0.22,
         0.19, 0.175, 0.165, 0.15, 0.13, 0.11, 0.1, 0.09, 0.075, 0.06,
         0.04, 0.025, 0.015, 0.015, 0.02, 0.02, 0.015, 0.01, 0.01, 0.015,
         0.01, 0, 0, 0, 0, 0, 0, 0, 0, 0]
n_base = [0.135, 0.115, 0.265, 0.29, 0.27, 0.26, 0.262, 0.268, 0.26, 0.225,
          0.175, 0.125, 0.105, 0.097, 0.1, 0.105, 0.098, 0.085, 0.072, 0.07,
          0.08, 0.09, 0.093, 0.085, 0.07, 0.06, 0.062, 0.07, 0.07, 0.06,
          0.052, 0.055, 0.065, 0.072, 0.062, 0.052, 0.06, 0.07, 0.07, 0.058]
n_csc_b = [0.005, 0.005, 0.02, 0.04, 0.04, 0.04, 0.04, 0.04, 0.045, 0.05,
           0.05, 0.055, 0.055, 0.055, 0.055, 0.055, 0.05, 0.045, 0.04, 0.03,
           0.02, 0.015, 0.01, 0.008, 0.005, 0.005, 0.005, 0.005, 0.005, 0.005,
           0.005, 0.005, 0.005, 0.005, 0.005, 0.005, 0.005, 0.005, 0.005, 0.005]
n_q_b = [0.005, 0.005, 0.02, 0.04, 0.045, 0.05, 0.05, 0.05, 0.05, 0.05,
         0.05, 0.05, 0.05, 0.05, 0.05, 0.05, 0.05, 0.045, 0.04, 0.035,
         0.03, 0.025, 0.02, 0.015, 0.015, 0.015, 0.012, 0.01, 0.01, 0.01,
         0.008, 0.005, 0.005, 0.005, 0.005, 0.005, 0.005, 0.005, 0.005, 0.005]
n_cpo_b = [0.005, 0.005, 0.02, 0.02, 0.02, 0.02, 0.02, 0.02, 0.02, 0.02,
           0.02, 0.02, 0.02, 0.02, 0.02, 0.02, 0.02, 0.02, 0.02, 0.025,
           0.02, 0.015, 0.01, 0.01, 0.01, 0.01, 0.01, 0.01, 0.01, 0.01,
           0.005, 0.005, 0.005, 0.005, 0.005, 0.005, 0.005, 0.005, 0.005, 0.005]
n_base_b = [0.005, 0.005, 0.02, 0.03, 0.03, 0.035, 0.045, 0.05, 0.05, 0.05,
            0.05, 0.045, 0.04, 0.035, 0.03, 0.03, 0.03, 0.03, 0.03, 0.03,
            0.03, 0.03, 0.03, 0.03, 0.03, 0.03, 0.03, 0.03, 0.03, 0.03,
            0.025, 0.025, 0.025, 0.025, 0.025, 0.025, 0.025, 0.025, 0.025, 0.025]

# ---------------- (o) Laikago Cum. failures ----------------
o_csc = [0, 3.5, 7, 11, 16, 21, 26, 30, 34, 36,
         37.5, 38.5, 39.5, 40.5, 41.5, 42.5, 43.3, 44, 44.6, 45,
         45.5, 45.8, 46, 46.2, 46.4, 46.5, 46.6, 46.7, 46.8, 46.9,
         47, 47, 47, 47, 47, 47, 47, 47, 47, 47]
o_q = [0, 3.5, 7, 13, 22, 31, 40, 49, 57, 64,
       70, 76, 81, 86, 91, 95, 99, 102, 105, 107,
       109, 110, 111, 112, 113, 113.5, 114, 114.5, 115, 115,
       115, 115, 115, 115, 115, 115, 115, 115, 115, 115]
o_cpo = [0, 3.5, 7, 12.5, 20, 29, 37, 45, 52, 58,
         63, 68, 73, 78, 82, 86, 90, 93, 96, 98,
         100, 101.5, 102.5, 103.5, 104, 104.5, 105, 105.5, 105.5, 106,
         106, 106, 106, 106, 106, 106, 106, 106, 106, 106]
o_base = [0, 3.5, 7, 13, 22, 31, 40, 49, 57, 64,
          70, 74, 78, 82, 86, 89, 92, 95, 98, 100,
          102, 104, 106, 108, 110, 112, 114, 116, 118, 120,
          122, 124, 126, 128, 130, 132, 134, 136, 139, 141.5]
o_csc_b = [0, 0.5, 1, 3, 6, 9, 12, 15, 17, 19,
           20, 21, 22, 23, 24, 25, 25.5, 26, 26.5, 27,
           27, 27.5, 27.5, 28, 28, 28, 28, 28, 28, 28,
           28, 28, 28, 28, 28, 28, 28, 28, 28, 28]
o_q_b = [0, 0.5, 1, 2, 4, 6, 8, 10, 12, 14,
         16, 18, 19, 20, 21, 22, 23, 24, 25, 26,
         26, 27, 27, 27, 28, 28, 28, 28, 28, 28,
         28, 28, 28, 28, 28, 28, 28, 28, 28, 28]
o_cpo_b = [0, 0.3, 0.5, 1, 1.5, 2, 2, 2.5, 2.5, 3,
           3, 3, 3, 3.5, 3.5, 3.5, 3.5, 3.5, 4, 4,
           4, 4, 4, 4, 4, 4, 4, 4, 4, 4,
           4, 4, 4, 4, 4, 4, 4, 4, 4, 4]
o_base_b = [0, 0.5, 1, 2, 4, 6, 8, 10, 11, 12,
            12, 13, 13, 14, 14, 15, 16, 17, 18, 19,
            20, 21, 22, 23, 24, 25, 26, 27, 28, 29,
            30, 31, 32, 33, 34, 35, 36, 37, 38, 38]

labels = ['CSC', 'Q ensembles', 'CPO', 'Base']
captions = ['(a) Point 2D Nav. Rewards', '(b) Point 2D Nav. Avg. failures', '(c) Point 2D Nav. Cum. failures',
            '(d) Panda Topple Rewards', '(e) Panda Topple Avg. failures', '(f) Panda Topple Cum. failures',
            '(g) Car Rewards', '(h) Car Avg. failures', '(i) Car Cum. failures',
            '(j) Panda Boundary Rewards', '(k) Panda Boundary Avg. failures', '(l) Panda Boundary Cum. failures',
            '(m) Laikago Rewards', '(n) Laikago Avg. failures', '(o) Laikago Cum. failures']

C_CSC = '#b3261e'
C_Q = '#2b3d9e'
C_CPO = '#d39b17'
C_BASE = '#187c89'
C_GREEN = '#2e8b3a'

W, H = 1047, 888
fig = plt.figure(figsize=(W / 100, H / 100), dpi=100)

cols = [(32, 342), (382, 690), (739, 1043)]
rows = [(7, 107), (185, 285), (363, 464), (542, 643), (722, 821)]
cap_x = [177, 522, 867]
cap_y = [158, 337, 517, 695, 870]


def panel(r, c, x, data, xticks, yticks, ylabel, loc, labs=labels, base_col=C_BASE):
    l, rr = cols[c]
    t, b = rows[r]
    ax = fig.add_axes([l / W, 1 - b / H, (rr - l) / W, (b - t) / H])
    styles = [(C_CSC, '-.', '.', 2.5), (C_Q, '--', None, 0), (C_CPO, '-', '+', 2.5), (base_col, '-', '.', 2.5)]
    for (mean, band), (col, ls, mk, ms), lab in zip(data, styles, labs):
        mean = np.array(mean, dtype=float)
        band = np.array(band, dtype=float)
        ax.fill_between(x, mean - band, mean + band, color=col, alpha=0.22, lw=0)
        ax.plot(x, mean, color=col, ls=ls, marker=mk, ms=ms, mew=0.5, lw=0.9, label=lab)
    ax.set_xticks(xticks)
    ax.set_yticks(yticks)
    ax.grid(True, color='#e3e3e3', ls='--', lw=0.6)
    ax.set_axisbelow(True)
    for s in ax.spines.values():
        s.set_color('#dddddd')
        s.set_linewidth(0.8)
    ax.tick_params(length=0, labelsize=5.5, colors='#333333', pad=2)
    ax.set_xlabel('Number of episodes. Each episode has 500 steps', fontsize=5.75, labelpad=0.5, color='#333333')
    ax.set_ylabel(ylabel, fontsize=5.75, labelpad=1.5, color='#333333')
    ax.legend(loc=loc, fontsize=5.4, handlelength=2.3, frameon=True, framealpha=0.9,
              edgecolor='#dddddd', borderpad=0.4, labelspacing=0.28, handletextpad=0.5)
    fig.text(cap_x[c] / W, 1 - cap_y[r] / H, captions[r * 3 + c], ha='center', va='center',
             fontsize=17.3, family='Liberation Serif')
    return ax


xt_s = [0, 250, 500, 750, 1000, 1250, 1500, 1750, 2000]
xt_l = [0, 2500, 5000, 7500, 10000, 12500, 15000, 17500, 20000]

panel(0, 0, x_short, [(a_csc, a_csc_b), (a_q, a_q_b), (a_cpo, a_cpo_b), (a_base, a_base_b)],
      xt_s, [0, 5, 10, 15, 20], 'Avg. Reward', 'upper left')
panel(0, 1, x_short, [(b_csc, b_csc_b), (b_q, b_q_b), (b_cpo, b_cpo_b), (b_base, b_base_b)],
      xt_s, [0, 0.2, 0.4, 0.6], 'Avg. Failures', 'upper right')
panel(0, 2, x_short, [(c_csc, c_csc_b), (c_q, c_q_b), (c_cpo, c_cpo_b), (c_base, c_base_b)],
      xt_s, [0, 100, 200, 300, 400], 'Cum. Failures', 'upper left')

panel(1, 0, x_short, [(d_csc, d_csc_b), (d_q, d_q_b), (d_cpo, d_cpo_b), (d_base, d_base_b)],
      xt_s, [0, 5, 10, 15, 20], 'Avg. Reward', 'upper left')
panel(1, 1, x_short, [(e_csc, e_csc_b), (e_q, e_q_b), (e_cpo, e_cpo_b), (e_base, e_base_b)],
      xt_s, [0, 0.2, 0.4, 0.6], 'Avg. Failures', 'upper right')
panel(1, 2, x_short, [(f_csc, f_csc_b), (f_q, f_q_b), (f_cpo, f_cpo_b), (f_base, f_base_b)],
      xt_s, [0, 100, 200, 300, 400], 'Cum. Failures', 'upper left')

panel(2, 0, x_long, [(g_csc, g_csc_b), (g_q, g_q_b), (g_cpo, g_cpo_b), (g_base, g_base_b)],
      xt_l, [0, 5, 10, 15], 'Avg. Reward', 'upper left')
panel(2, 1, x_short, [(h_csc, h_csc_b), (h_q, h_q_b), (h_cpo, h_cpo_b), (h_base, h_base_b)],
      xt_s, [0, 0.1, 0.2, 0.3, 0.4], 'Avg. Failures', 'upper right')
panel(2, 2, x_short, [(i_csc, i_csc_b), (i_q, i_q_b), (i_cpo, i_cpo_b), (i_base, i_base_b)],
      xt_s, [0, 50, 100, 150, 200, 250], 'Cum. Failures', 'upper left')

panel(3, 0, x_short, [(j_csc, j_csc_b), (j_q, j_q_b), (j_cpo, j_cpo_b), (j_base, j_base_b)],
      xt_s, [0, 2, 4, 6, 8, 10], 'Avg. Reward', 'upper left')
panel(3, 1, x_short, [(k_csc, k_csc_b), (k_q, k_q_b), (k_cpo, k_cpo_b), (k_base, k_base_b)],
      xt_s, [0, 100, 200, 300, 400], 'Avg. Deaths', 'upper left',
      labs=['Our method', 'Q ensembles', 'CPO', 'Base'], base_col=C_GREEN)
panel(3, 2, x_short, [(l_csc, l_csc_b), (l_q, l_q_b), (l_cpo, l_cpo_b), (l_base, l_base_b)],
      xt_s, [0, 100, 200, 300, 400], 'Cum. Failures', 'upper left')

panel(4, 0, x_long, [(m_csc, m_csc_b), (m_q, m_q_b), (m_cpo, m_cpo_b), (m_base, m_base_b)],
      xt_l, [0, 5, 10, 15, 20, 25], 'Avg. Reward', 'upper left')
panel(4, 1, x_long, [(n_csc, n_csc_b), (n_q, n_q_b), (n_cpo, n_cpo_b), (n_base, n_base_b)],
      xt_l, [0, 0.1, 0.2, 0.3], 'Avg. Failures', 'upper right')
panel(4, 2, x_long, [(o_csc, o_csc_b), (o_q, o_q_b), (o_cpo, o_cpo_b), (o_base, o_base_b)],
      xt_l, [0, 50, 100, 150], 'Cum. Failures', 'upper left')

fig.savefig('out.png', dpi=100)
